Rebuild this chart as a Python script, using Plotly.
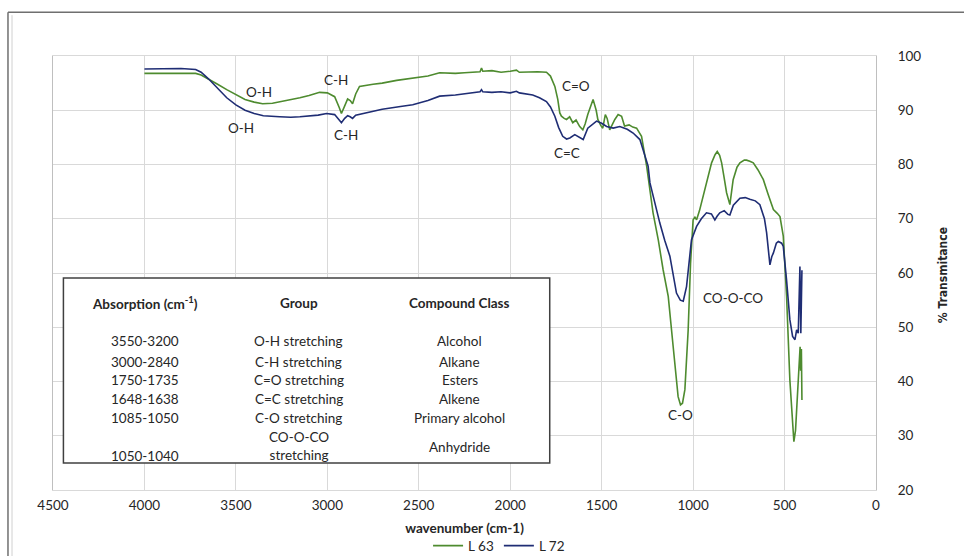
import plotly.graph_objects as go

# ---------------- data ----------------
wn_l63 = [4000, 3900, 3800, 3720, 3690, 3650, 3600, 3550, 3500, 3450, 3400, 3354, 3300, 3250, 3200,
          3150, 3100, 3042, 3000, 2960, 2935, 2923, 2905, 2889, 2875, 2862, 2845, 2824, 2750, 2700,
          2621, 2550, 2450, 2386, 2300, 2250, 2200, 2165, 2157, 2150, 2100, 2050, 2000, 1966, 1950,
          1900, 1850, 1802, 1780, 1756, 1740, 1729, 1720, 1705, 1692, 1675, 1658, 1640, 1620, 1603,
          1590, 1576, 1560, 1547, 1530, 1521, 1505, 1494, 1480, 1470, 1456, 1440, 1428, 1410, 1391,
          1375, 1350, 1330, 1309, 1282, 1254, 1219, 1190, 1164, 1136, 1109, 1082, 1069, 1058, 1045,
          1027, 1014, 1000, 990, 981, 965, 945, 920, 899, 880, 868, 855, 844, 830, 817, 799, 790, 781,
          760, 744, 720, 708, 690, 671, 645, 616, 590, 561, 540, 525, 507, 489, 471, 456, 449, 440,
          430, 419, 415, 412, 408, 405]
t_l63 = [96.8, 96.8, 96.9, 96.8, 96.5, 95.8, 94.8, 93.8, 92.9, 92.0, 91.5, 91.2, 91.3, 91.6, 91.9,
         92.3, 92.7, 93.3, 93.2, 92.5, 90.5, 89.4, 90.8, 92.1, 91.8, 91.2, 93.0, 94.4, 94.8, 95.0,
         95.5, 95.8, 96.3, 96.9, 96.8, 96.9, 97.0, 97.1, 97.8, 97.2, 97.3, 97.0, 97.2, 97.4, 97.0,
         97.1, 97.1, 97.0, 96.3, 94.4, 92.0, 89.5, 88.9, 88.5, 88.3, 88.8, 87.7, 88.2, 87.0, 86.4,
         87.5, 89.2, 91.0, 92.0, 90.0, 88.3, 87.2, 86.7, 89.2, 88.5, 86.4, 87.5, 88.3, 89.2, 88.9,
         87.1, 87.3, 86.9, 86.7, 85.2, 79.7, 71.1, 66.0, 60.6, 55.7, 46.4, 37.2, 35.7, 36.0, 38.5,
         49.5, 61.8, 69.8, 70.3, 69.8, 71.5, 74.1, 77.5, 80.3, 81.8, 82.4, 81.7, 80.3, 77.5, 74.8,
         72.6, 74.5, 77.2, 79.5, 80.3, 80.8, 80.8, 80.6, 80.3, 79.0, 77.2, 74.5, 71.7, 71.0, 70.4,
         66.8, 55.7, 40.3, 31.0, 28.9, 31.0, 36.6, 44.6, 46.4, 42.0, 46.0, 36.6]

wn_l72 = [4000, 3900, 3800, 3720, 3690, 3650, 3600, 3550, 3500, 3450, 3400, 3350, 3261, 3200, 3150,
          3100, 3050, 3004, 2960, 2935, 2923, 2905, 2889, 2875, 2862, 2845, 2807, 2750, 2700, 2600,
          2533, 2450, 2386, 2300, 2250, 2200, 2165, 2157, 2150, 2100, 2050, 2000, 1966, 1950, 1900,
          1877, 1840, 1802, 1780, 1756, 1735, 1713, 1692, 1674, 1647, 1625, 1601, 1576, 1547, 1528,
          1500, 1473, 1437, 1401, 1360, 1328, 1291, 1270, 1246, 1236, 1210, 1182, 1155, 1127, 1091,
          1070, 1054, 1036, 1009, 981, 955, 927, 900, 881, 868, 854, 830, 810, 799, 780, 744, 715,
          690, 660, 635, 610, 598, 580, 570, 561, 545, 534, 516, 507, 489, 471, 456, 443, 434, 425,
          416, 411, 405]
t_l72 = [97.6, 97.6, 97.7, 97.5, 97.0, 95.8, 94.0, 92.3, 91.0, 90.0, 89.4, 89.0, 88.8, 88.7, 88.8,
         88.9, 89.1, 89.4, 89.2, 88.2, 87.7, 88.5, 89.0, 88.8, 88.5, 89.1, 89.4, 89.8, 90.2, 90.7,
         91.0, 91.8, 92.6, 92.8, 93.0, 93.2, 93.4, 93.8, 93.4, 93.3, 93.4, 93.2, 93.5, 93.2, 93.0,
         92.8, 92.3, 91.6, 90.6, 88.9, 86.8, 85.2, 84.7, 84.9, 85.5, 85.0, 84.6, 86.7, 87.5, 88.0,
         87.6, 87.0, 86.7, 87.0, 86.5, 85.8, 84.6, 82.5, 79.7, 76.6, 72.8, 69.2, 66.0, 63.1, 56.3,
         55.0, 54.8, 57.5, 66.1, 68.6, 70.0, 71.1, 70.9, 69.8, 70.5, 71.1, 71.5, 70.8, 70.7, 72.5,
         73.8, 73.9, 73.6, 73.3, 72.6, 70.0, 67.4, 61.5, 63.0, 63.7, 65.5, 65.8, 65.5, 64.9, 58.7,
         51.4, 48.3, 47.7, 49.5, 48.9, 61.2, 48.9, 60.5]

series_names = ["L 63", "L 72"]

# peak labels
peak_labels = ["O-H", "O-H", "C-H", "C-H", "C=O", "C=C", "CO-O-CO", "C-O"]
peak_wn = [3371, 3471, 2951, 2896, 1638, 1692, 780, 1067]
peak_t = [93.4, 86.7, 95.6, 85.5, 94.4, 82.2, 55.4, 33.8]

# table contents
table_headers = ["Absorption (cm<sup>-1</sup>)", "Group", "Compound Class"]
table_absorption = ["3550-3200", "3000-2840", "1750-1735", "1648-1638", "1085-1050", "1050-1040"]
table_group = ["O-H stretching", "C-H stretching", "C=O stretching", "C=C stretching",
               "C-O stretching", "CO-O-CO<br>stretching"]
table_class = ["Alcohol", "Alkane", "Esters", "Alkene", "Primary alcohol", "Anhydride"]

x_ticks = [4500, 4000, 3500, 3000, 2500, 2000, 1500, 1000, 500, 0]
y_ticks = [20, 30, 40, 50, 60, 70, 80, 90, 100]

# ---------------- styling / layout constants ----------------
colors = ["#4e8b2f", "#1f2d74"]
FONT = "Lato, 'Open Sans', sans-serif"
TXT = "#262626"

# table layout (data coords)
tab_box = dict(x0=4443, x1=1784, y0=25.0, y1=59.1)
col_x = [3995, 3157, 2276]
head_y = 54.5
row_y = [47.5, 43.6, 40.2, 36.7, 33.3, 26.3]
group_y = [47.5, 43.6, 40.2, 36.7, 33.3, 28.1]
class_y = [47.5, 43.6, 40.2, 36.7, 33.3, 27.9]

fig = go.Figure()
for wn, t, name, c in zip([wn_l63, wn_l72], [t_l63, t_l72], series_names, colors):
    fig.add_trace(go.Scatter(x=wn, y=t, mode="lines", name=name,
                             line=dict(color=c, width=1.6)))

annotations = []
for lab, xv, yv in zip(peak_labels, peak_wn, peak_t):
    annotations.append(dict(x=xv, y=yv, xref="x", yref="y", text=lab, showarrow=False,
                            font=dict(family=FONT, size=13.5, color=TXT)))

for h, cx in zip(table_headers, col_x):
    annotations.append(dict(x=cx, y=head_y, xref="x", yref="y", text="<b>" + h + "</b>",
                            showarrow=False, font=dict(family=FONT, size=13.5, color=TXT)))
for i in range(len(table_absorption)):
    annotations.append(dict(x=col_x[0], y=row_y[i], xref="x", yref="y", text=table_absorption[i],
                            showarrow=False, font=dict(family=FONT, size=13.5, color=TXT)))
    annotations.append(dict(x=col_x[1], y=group_y[i], xref="x", yref="y", text=table_group[i],
                            showarrow=False, font=dict(family=FONT, size=13.5, color=TXT)))
    annotations.append(dict(x=col_x[2], y=class_y[i], xref="x", yref="y", text=table_class[i],
                            showarrow=False, font=dict(family=FONT, size=13.5, color=TXT)))

# y-axis title (right side)
annotations.append(dict(x=1.0923, y=0.495, xref="paper", yref="paper", text="<b>% Transmitance</b>",
                        textangle=-90, showarrow=False,
                        font=dict(family="'Liberation Sans Narrow', 'DejaVu Sans Condensed', sans-serif",
                                  size=12, color=TXT)))

shapes = [
    dict(type="rect", xref="x", yref="y", layer="above", fillcolor="white",
         line=dict(color="#404040", width=1.5), **tab_box),
    # outer chart frame
    dict(type="line", xref="paper", yref="paper", x0=-0.0547, x1=1.2, y0=1.101, y1=1.101,
         line=dict(color="#6f6f6f", width=1.5)),
    dict(type="line", xref="paper", yref="paper", x0=-0.0547, x1=-0.0547, y0=1.101, y1=-0.2,
         line=dict(color="#6f6f6f", width=1.5)),
    dict(type="line", xref="paper", yref="paper", x0=-0.0498, x1=-0.0498, y0=1.094, y1=-0.2,
         line=dict(color="#d0d0d0", width=1)),
]

fig.update_layout(
    width=964, height=556,
    margin=dict(l=53, r=88, t=56, b=66, autoexpand=False),
    paper_bgcolor="white", plot_bgcolor="white",
    font=dict(family=FONT, size=13, color=TXT),
    showlegend=True,
    legend=dict(orientation="h", x=0.542, xanchor="center", y=-0.093, yanchor="top",
                font=dict(family=FONT, size=13.5, color=TXT), bgcolor="rgba(0,0,0,0)",
                itemwidth=30, tracegroupgap=0),
    annotations=annotations,
    shapes=shapes,
    xaxis=dict(range=[4500, 0], tickvals=x_ticks, ticktext=[str(v) for v in x_ticks],
               showgrid=True, gridcolor="#d9d9d9", gridwidth=1, zeroline=False,
               showline=True, linecolor="#d9d9d9", linewidth=1, mirror=True,
               ticks="", ticklabelstandoff=3, automargin=False,
               tickfont=dict(family=FONT, size=13.5, color=TXT),
               title=dict(text="<b>wavenumber (cm-1)</b>", standoff=11,
                          font=dict(family=FONT, size=13.5, color=TXT))),
    yaxis=dict(range=[20, 100], tickvals=y_ticks, side="right",
               showgrid=True, gridcolor="#d9d9d9", gridwidth=1, zeroline=False,
               showline=True, linecolor="#bfbfbf", linewidth=1, mirror=True,
               ticks="", ticklabelstandoff=18, automargin=False,
               tickfont=dict(family=FONT, size=13.5, color=TXT)),
)

fig.write_html("out.html", config={"displayModeBar": False},
               post_script="document.body.style.margin='0';document.body.style.overflow='hidden';")
